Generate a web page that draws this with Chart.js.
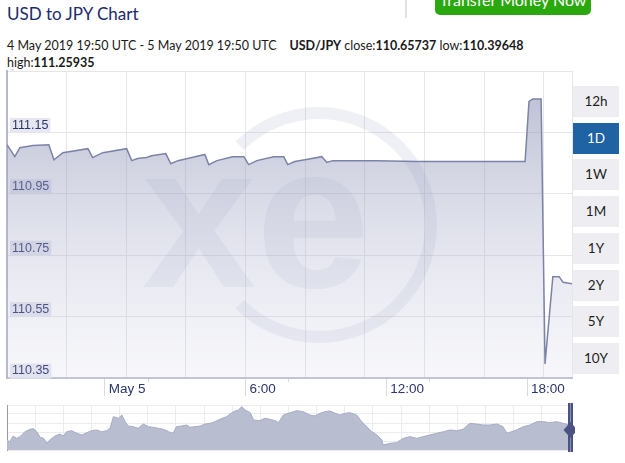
<!DOCTYPE html>
<html>
<head>
<meta charset="utf-8">
<script src="https://cdn.jsdelivr.net/npm/chart.js@4.4.1/dist/chart.umd.min.js"></script>
<style>
  body { margin: 0; width: 625px; height: 463px; overflow: hidden; background: #fff; font-family: Lato, "Noto Sans", sans-serif; position: relative; }
  .title { position: absolute; left: 7px; top: 3px; font-size: 17px; line-height: 22px; color: #1c2a6b; }
  .info { position: absolute; left: 7px; top: 37px; font-size: 12.5px; line-height: 17px; color: #1a1a1a; white-space: nowrap; }
  .info b { font-weight: 700; }
  .sep { position: absolute; left: 405px; top: 0; width: 2px; height: 18px; background: #e2e2e2; }
  .transfer { position: absolute; left: 435px; top: -16px; width: 156px; height: 31px; border-radius: 5px; background: #2ba80e; color: #fff; font-size: 16px; line-height: 32px; text-align: center; }
  .range { position: absolute; left: 573px; width: 46px; height: 31px; line-height: 31px; background: #eeeef2; color: #1e1e1e; font-size: 13.5px; text-align: center; }
  .range.on { background: #1f63a5; color: #fff; }
  #main { position: absolute; left: 0; top: 69px; }
  #nav { position: absolute; left: 0; top: 402px; }
</style>
</head>
<body>
<div class="title">USD to JPY Chart</div>
<div class="sep"></div>
<div class="transfer">Transfer Money Now</div>
<div class="info">4 May 2019 19:50 UTC - 5 May 2019 19:50 UTC &nbsp;&nbsp; <b>USD/JPY</b> close:<b>110.65737</b> low:<b>110.39648</b><br>high:<b>111.25935</b></div>
<div id="ranges"></div>
<canvas id="main" width="575" height="336"></canvas>
<canvas id="nav" width="575" height="50"></canvas>
<script>
// USD/JPY, 4 May 2019 19:50 UTC - 5 May 2019 19:50 UTC
const times = [
  '2019-05-04T19:50', '2019-05-04T20:10', '2019-05-04T20:23', '2019-05-04T20:56', '2019-05-04T21:37',
  '2019-05-04T21:50', '2019-05-04T22:13', '2019-05-04T23:17', '2019-05-04T23:29', '2019-05-04T23:55',
  '2019-05-05T00:56', '2019-05-05T01:09', '2019-05-05T01:24', '2019-05-05T01:47', '2019-05-05T02:00',
  '2019-05-05T02:36', '2019-05-05T02:49', '2019-05-05T03:07', '2019-05-05T03:43', '2019-05-05T04:16',
  '2019-05-05T04:26', '2019-05-05T04:47', '2019-05-05T05:27', '2019-05-05T05:56', '2019-05-05T06:08',
  '2019-05-05T06:29', '2019-05-05T07:12', '2019-05-05T07:38', '2019-05-05T07:48', '2019-05-05T08:06',
  '2019-05-05T08:32', '2019-05-05T09:15', '2019-05-05T09:28', '2019-05-05T09:43', '2019-05-05T11:36',
  '2019-05-05T13:18', '2019-05-05T17:55', '2019-05-05T18:05', '2019-05-05T18:15', '2019-05-05T18:36',
  '2019-05-05T18:46', '2019-05-05T19:06', '2019-05-05T19:22', '2019-05-05T19:32', '2019-05-05T19:55'
]
const rates = [
  111.110, 111.071, 111.100, 111.107, 111.110,
  111.061, 111.084, 111.097, 111.068, 111.084,
  111.097, 111.058, 111.065, 111.068, 111.074,
  111.081, 111.048, 111.058, 111.068, 111.078,
  111.045, 111.058, 111.071, 111.071, 111.045,
  111.058, 111.071, 111.071, 111.045, 111.055,
  111.061, 111.071, 111.052, 111.058, 111.058,
  111.055, 111.055, 111.251, 111.259, 111.259,
  110.396, 110.680, 110.680, 110.662, 110.657
]
const yTicks = [110.35, 110.55, 110.75, 110.95, 111.15, 111.35]
const xTickHours = [0, 6, 12, 18]
const xTickLabels = ['May 5', '6:00', '12:00', '18:00']
const ranges = ['12h', '1D', '1W', '1M', '1Y', '2Y', '5Y', '10Y']

// navigator overview (relative level, no axis shown)
const navPos = [
  0, 0.5, 1.1, 1.7, 2.3, 3.2, 4.1, 4.7, 5.3, 5.9, 6.5, 7.1, 7.6, 8.5, 9.4, 10.0, 10.6, 11.5, 12.4, 13.3,
  14.2, 15.0, 15.9, 16.8, 17.7, 18.3, 18.9, 19.8, 20.4, 21.0, 21.5, 22.4, 23.3, 24.2, 25.1, 26.0, 26.9, 27.8,
  28.7, 29.5, 30.1, 31.0, 31.9, 32.5, 33.4, 34.3, 35.2, 36.1, 36.9, 37.8, 39.0, 40.2, 41.1, 41.7, 42.3, 43.2,
  43.8, 44.9, 45.8, 46.7, 47.6, 48.2, 49.1, 50.3, 51.5, 52.6, 53.8, 54.7, 55.6, 56.5, 57.4, 58.3, 59.1, 60.0,
  60.9, 62.1, 63.0, 63.9, 64.8, 65.7, 66.6, 66.8, 68.0, 69.2, 70.4, 71.6, 72.8, 73.9, 75.1, 76.3, 77.5, 78.7,
  79.9, 81.0, 82.2, 83.4, 84.6, 85.8, 87.0, 88.1, 88.8, 89.6, 90.5, 91.7, 92.9, 94.1, 95.3, 96.4, 97.6, 98.8, 100
]
const navLevels = [
  30, 25, 42, 35, 40, 55, 62, 64, 55, 38, 35, 20, 30, 42, 48, 42, 55, 58, 50, 45,
  52, 58, 60, 55, 58, 65, 100, 95, 105, 85, 72, 70, 65, 78, 70, 68, 65, 62,
  55, 50, 70, 72, 75, 68, 70, 72, 78, 80, 85, 92, 100, 115, 120, 130, 120, 112,
  90, 88, 95, 92, 88, 82, 105, 112, 118, 115, 105, 102, 110, 115, 117, 110, 105, 110,
  112, 105, 85, 70, 55, 45, 30, 15, 20, 22, 35, 40, 35, 40, 45, 50, 55, 60,
  58, 62, 80, 78, 75, 75, 78, 70, 50, 55, 60, 70, 75, 85, 85, 82, 85, 80, 75
]

const navy = '#2b356e'
const tickFamily = '"Liberation Sans", Arial, sans-serif'
const midnight = Date.parse('2019-05-05T00:00:00Z')

function toHours (t) {
  return (Date.parse(t + ':00Z') - midnight) / 3600000
}

//no extra room for half labels, the box is placed by hand
function noPad (s) {
  s.paddingTop = 0
  s.paddingBottom = 0
  s.paddingLeft = 0
  s.paddingRight = 0
}

// range buttons
let holder = document.getElementById('ranges')
ranges.forEach(function (r, i) {
  let d = document.createElement('div')
  d.className = 'range' + (r === '1D' ? ' on' : '')
  d.style.top = (86 + i * 36.7) + 'px'
  d.textContent = r
  holder.appendChild(d)
})

let points = times.map(function (t, i) {
  return {x: toHours(t), y: rates[i]}
})
let xMin = toHours(times[0])
let xMax = toHours(times[times.length - 1])

// faint xe watermark behind the series
const watermark = {
  id: 'watermark',
  beforeDatasetsDraw (chart) {
    let c = chart.ctx, a = chart.chartArea
    c.save()
    c.beginPath()
    c.rect(a.left, a.top, a.right - a.left, a.bottom - a.top)
    c.clip()
    c.strokeStyle = 'rgba(120,128,170,0.12)'
    c.lineWidth = 12
    c.beginPath()
    c.arc(a.left + 312, a.top + 154, 112, -0.75 * Math.PI, 0.75 * Math.PI)
    c.stroke()
    c.fillStyle = 'rgba(120,128,170,0.10)'
    c.font = 'bold 205px "Liberation Sans", Arial, sans-serif'
    c.textBaseline = 'alphabetic'
    c.fillText('xe', a.left + 135, a.top + 216)
    c.restore()
  }
}

new Chart(document.getElementById('main'), {
  type   : 'line',
  data   : {
    datasets: [{
      data           : points,
      borderColor    : '#7c83a9',
      borderWidth    : 1.5,
      pointRadius    : 0,
      tension        : 0,
      fill           : 'start',
      backgroundColor: function (ctx) {
        let a = ctx.chart.chartArea
        if (!a) return 'rgba(190,193,212,0.5)'
        let g = ctx.chart.ctx.createLinearGradient(0, a.top, 0, a.bottom)
        g.addColorStop(0, 'rgba(125,132,170,0.55)')
        g.addColorStop(1, 'rgba(200,202,225,0.15)')
        return g
      }
    }]
  },
  options: {
    responsive         : false,
    animation          : false,
    layout             : {padding: {left: 7, right: 3, top: 2, bottom: 0}},
    plugins            : {legend: {display: false}, tooltip: {enabled: false}},
    scales             : {
      x : {
        type           : 'linear',
        position       : 'bottom',
        weight         : 2,
        min            : xMin,
        max            : xMax,
        afterBuildTicks: function (s) { s.ticks = xTickHours.map(function (v) { return {value: v} }) },
        afterFit       : function (s) { s.height = 27; noPad(s) },
        grid           : {drawOnChartArea: false, tickLength: 18, tickColor: '#dadade', tickWidth: 1},
        border         : {display: true, color: '#c0c4d6', width: 2},
        ticks          : {
          align      : 'start',
          labelOffset: 4,
          padding    : -15,
          maxRotation: 0,
          autoSkip   : false,
          color      : navy,
          font       : {family: tickFamily, size: 13.5},
          callback   : function (v) { return xTickLabels[xTickHours.indexOf(v)] }
        }
      },
      xm: {
        type           : 'linear',
        position       : 'bottom',
        weight         : 0,
        min            : xMin,
        max            : xMax,
        afterBuildTicks: function (s) { s.ticks = xTickHours.slice(0, 3).map(function (v) { return {value: v + 1.85} }) },
        afterFit       : function (s) { s.height = 0; noPad(s) },
        grid           : {drawOnChartArea: false, tickLength: 4, tickColor: '#dadade'},
        border         : {display: false},
        ticks          : {display: false}
      },
      xg: {
        type           : 'linear',
        position       : 'bottom',
        weight         : 1,
        min            : xMin,
        max            : xMax,
        afterBuildTicks: function (s) {
          let t = []
          for (let v = s.min; v < s.max - 0.5; v += 152.5 / 60) t.push({value: v})
          t.push({value: s.max})
          s.ticks = t
        },
        afterFit       : function (s) { s.height = 0; noPad(s) },
        grid           : {color: '#e6e6e9', lineWidth: 1, drawTicks: false},
        border         : {display: false},
        ticks          : {display: false}
      },
      y : {
        min            : yTicks[0],
        max            : yTicks[yTicks.length - 1],
        afterBuildTicks: function (s) { s.ticks = yTicks.map(function (v) { return {value: v} }) },
        afterFit       : function (s) { s.width = 0; noPad(s) },
        grid           : {color: '#e6e6e9', lineWidth: 1, drawTicks: false},
        border         : {display: true, color: '#b5b9ce', width: 2},
        ticks          : {
          mirror           : true,
          padding          : 5,
          labelOffset      : -7,
          color            : navy,
          font             : {family: tickFamily, size: 12.5},
          showLabelBackdrop: true,
          backdropColor    : '#e6e7f0',
          backdropPadding  : {top: 0, bottom: 0, left: 2, right: 2},
          callback         : function (v) { return v === yTicks[yTicks.length - 1] ? '' : v.toFixed(2) }
        }
      }
    }
  },
  plugins: [watermark]
})

// navigator handle at the right end
const handle = {
  id: 'handle',
  afterDraw (chart) {
    let c = chart.ctx, a = chart.chartArea
    c.save()
    c.fillStyle = '#4b5384'
    c.fillRect(a.right - 2, a.top - 2, 5, a.bottom - a.top + 4)
    c.fillStyle = '#8a90b4'
    c.fillRect(a.right, a.top - 2, 1, a.bottom - a.top + 4)
    c.fillStyle = '#4b5384'
    let cx = a.right + 0.5, cy = a.top + 25
    c.beginPath()
    c.moveTo(cx - 7, cy)
    c.lineTo(cx, cy - 8)
    c.lineTo(cx + 7, cy)
    c.lineTo(cx, cy + 8)
    c.closePath()
    c.fill()
    c.restore()
  }
}

new Chart(document.getElementById('nav'), {
  type   : 'line',
  data   : {
    datasets: [{
      data           : navPos.map(function (p, i) { return {x: p, y: navLevels[i]} }),
      borderColor    : '#a6abc4',
      borderWidth    : 1,
      pointRadius    : 0,
      tension        : 0,
      fill           : 'start',
      backgroundColor: '#b9bdd0'
    }]
  },
  options: {
    responsive: false,
    animation : false,
    layout    : {padding: {left: 7, right: 5, top: 3, bottom: 2}},
    plugins   : {legend: {display: false}, tooltip: {enabled: false}},
    scales    : {
      x: {
        type    : 'linear',
        min     : 0,
        max     : 100,
        afterFit: function (s) { s.height = 0; noPad(s) },
        grid    : {color: '#ececee', drawTicks: false},
        border  : {display: false},
        ticks   : {display: false, stepSize: 5}
      },
      y: {
        min     : 0,
        max     : 135,
        afterFit: function (s) { s.width = 0; noPad(s) },
        grid    : {color: '#ececee', drawTicks: false},
        border  : {display: true, color: '#9a9aa6', width: 1},
        ticks   : {display: false, stepSize: 27}
      }
    }
  },
  plugins: [handle]
})
</script>
</body>
</html>
